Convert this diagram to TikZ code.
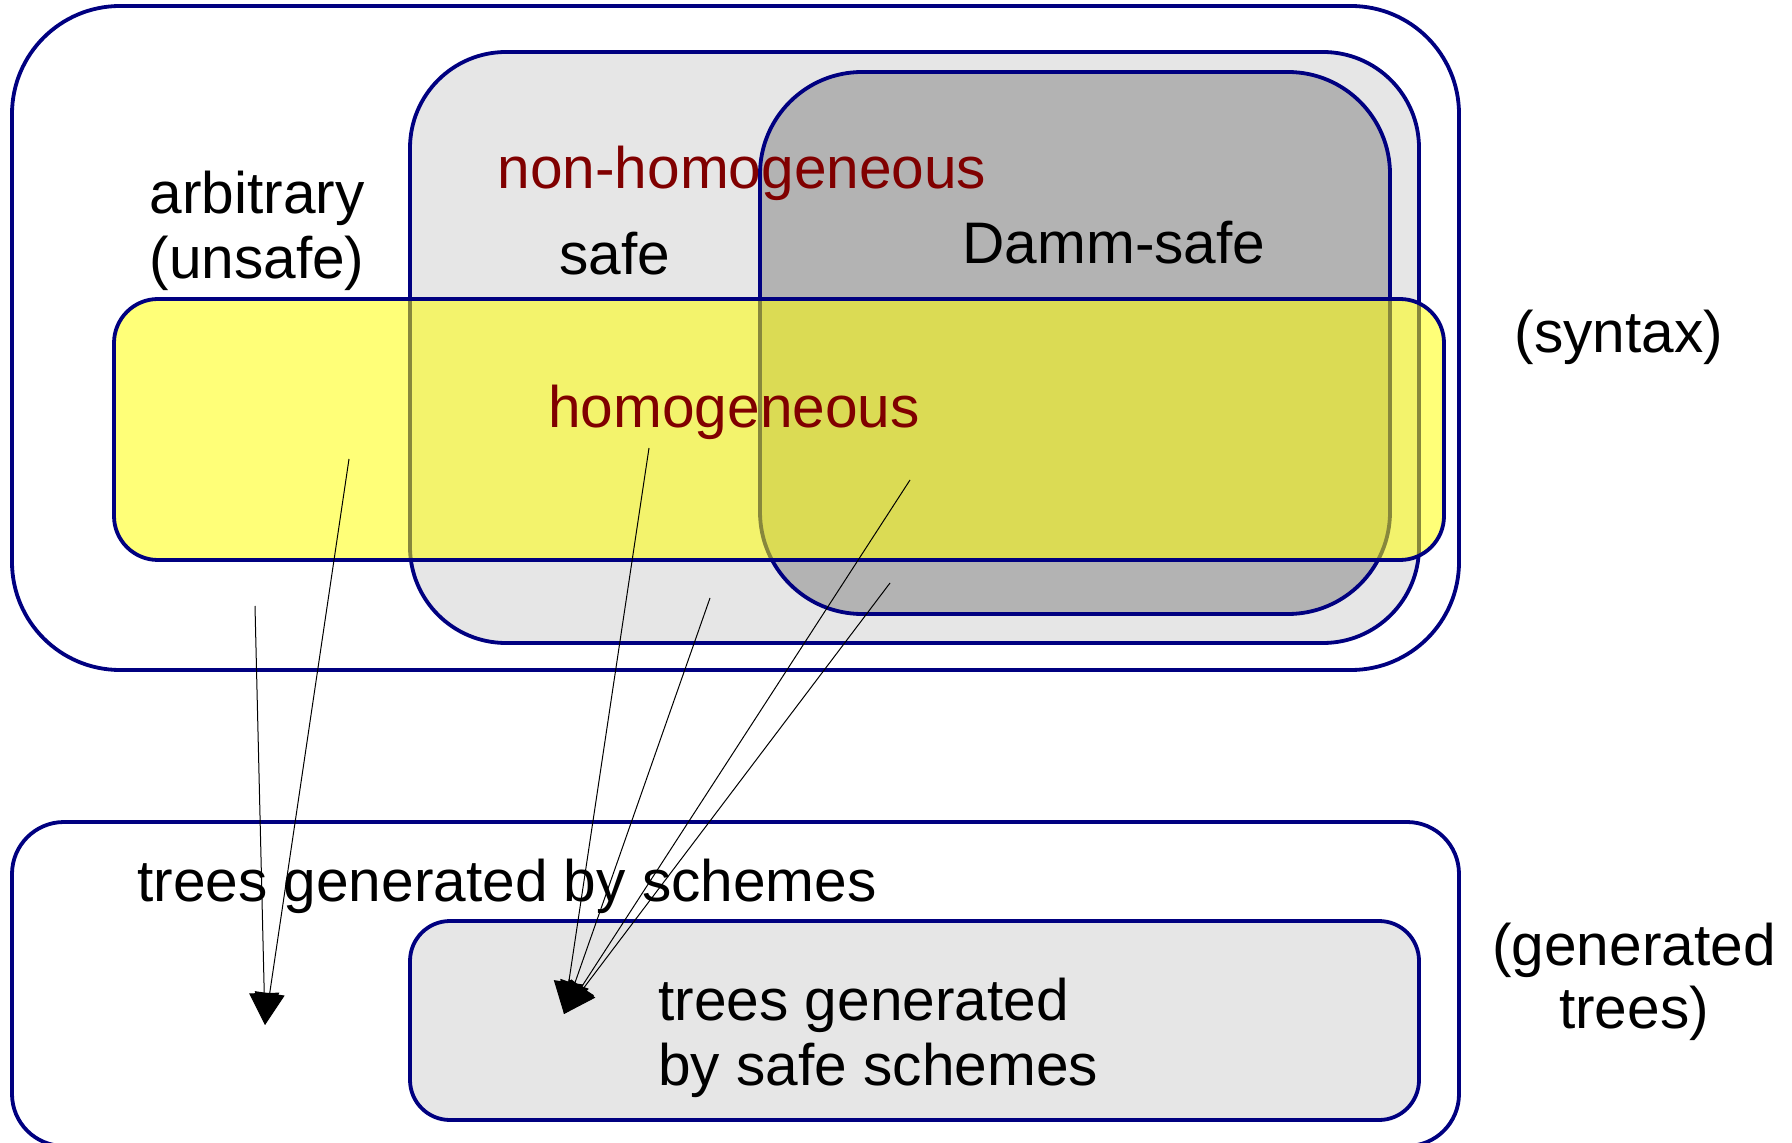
\documentclass[tikz,border=0pt]{standalone}
\usepackage{fontspec}
\setmainfont{Liberation Sans}
\usetikzlibrary{arrows.meta}
\definecolor{navyb}{RGB}{0,0,128}
\definecolor{darkred}{RGB}{128,0,0}
\definecolor{lgray}{RGB}{230,230,230}
\definecolor{dgray}{RGB}{179,179,179}
\definecolor{yel}{RGB}{255,255,0}
\begin{document}
\begin{tikzpicture}[x=0.5pt,y=-0.5pt,
  setbox/.style={draw=navyb, line width=1.9pt},
  lbl/.style={font=\fontsize{29.3}{32.6}\selectfont, inner sep=0pt, anchor=base},
  redlbl/.style={lbl, text=darkred},
  arr/.style={line width=0.5pt, -{Triangle[length=16pt,width=15pt]}},
]
\useasboundingbox (0,0) rectangle (1792,1143);
% syntax sets
\draw[setbox, fill=white, rounded corners=54pt] (12,6) rectangle (1459,670);
\draw[setbox, fill=lgray, rounded corners=48pt] (410,52) rectangle (1419,643);
\draw[setbox, fill=dgray, rounded corners=51pt] (760,72) rectangle (1390,614);
\draw[setbox, fill=yel, fill opacity=0.53, rounded corners=22pt] (114,299) rectangle (1444,560);
% generated trees
\draw[setbox, fill=white, rounded corners=26pt] (12,822) rectangle (1459,1146);
\draw[setbox, fill=lgray, rounded corners=20pt] (410,921) rectangle (1419,1120);
% labels
\node[redlbl] (nonhom) at (742,188.6) {non-homogeneous};
\node[lbl] (safe) at (615,274.3) {safe};
\node[lbl] (damm) at (1114,264) {Damm-safe};
\node[lbl] (arb1) at (257,213.7) {arbitrary};
\node[lbl] (arb2) at (257,278.9) {(unsafe)};
\node[redlbl] (hom) at (734,427.4) {homogeneous};
\node[lbl] (syn) at (1619,353) {(syntax)};
\node[lbl] (tgs) at (507,901.7) {trees generated by schemes};
\node[lbl] (gen1) at (1634,965.7) {(generated};
\node[lbl] (gen2) at (1634,1028.6) {trees)};
\node[lbl, anchor=base west] (tsafe1) at (658,1020.6) {trees generated};
\node[lbl, anchor=base west] (tsafe2) at (658,1085.7) {by safe schemes};
% arrows
\coordinate (s1) at (255,606);
\coordinate (s2) at (349,459);
\coordinate (t1) at (265,1025);
\coordinate (s3) at (649,448);
\coordinate (s4) at (710,598);
\coordinate (s5) at (910,480);
\coordinate (s6) at (890,583);
\coordinate (t2) at (564,1014);
\draw[arr] (s1) -- (t1);
\draw[arr] (s2) -- (t1);
\draw[arr] (s3) -- (t2);
\draw[arr] (s4) -- (t2);
\draw[arr] (s5) -- (t2);
\draw[arr] (s6) -- (t2);
\end{tikzpicture}
\end{document}
